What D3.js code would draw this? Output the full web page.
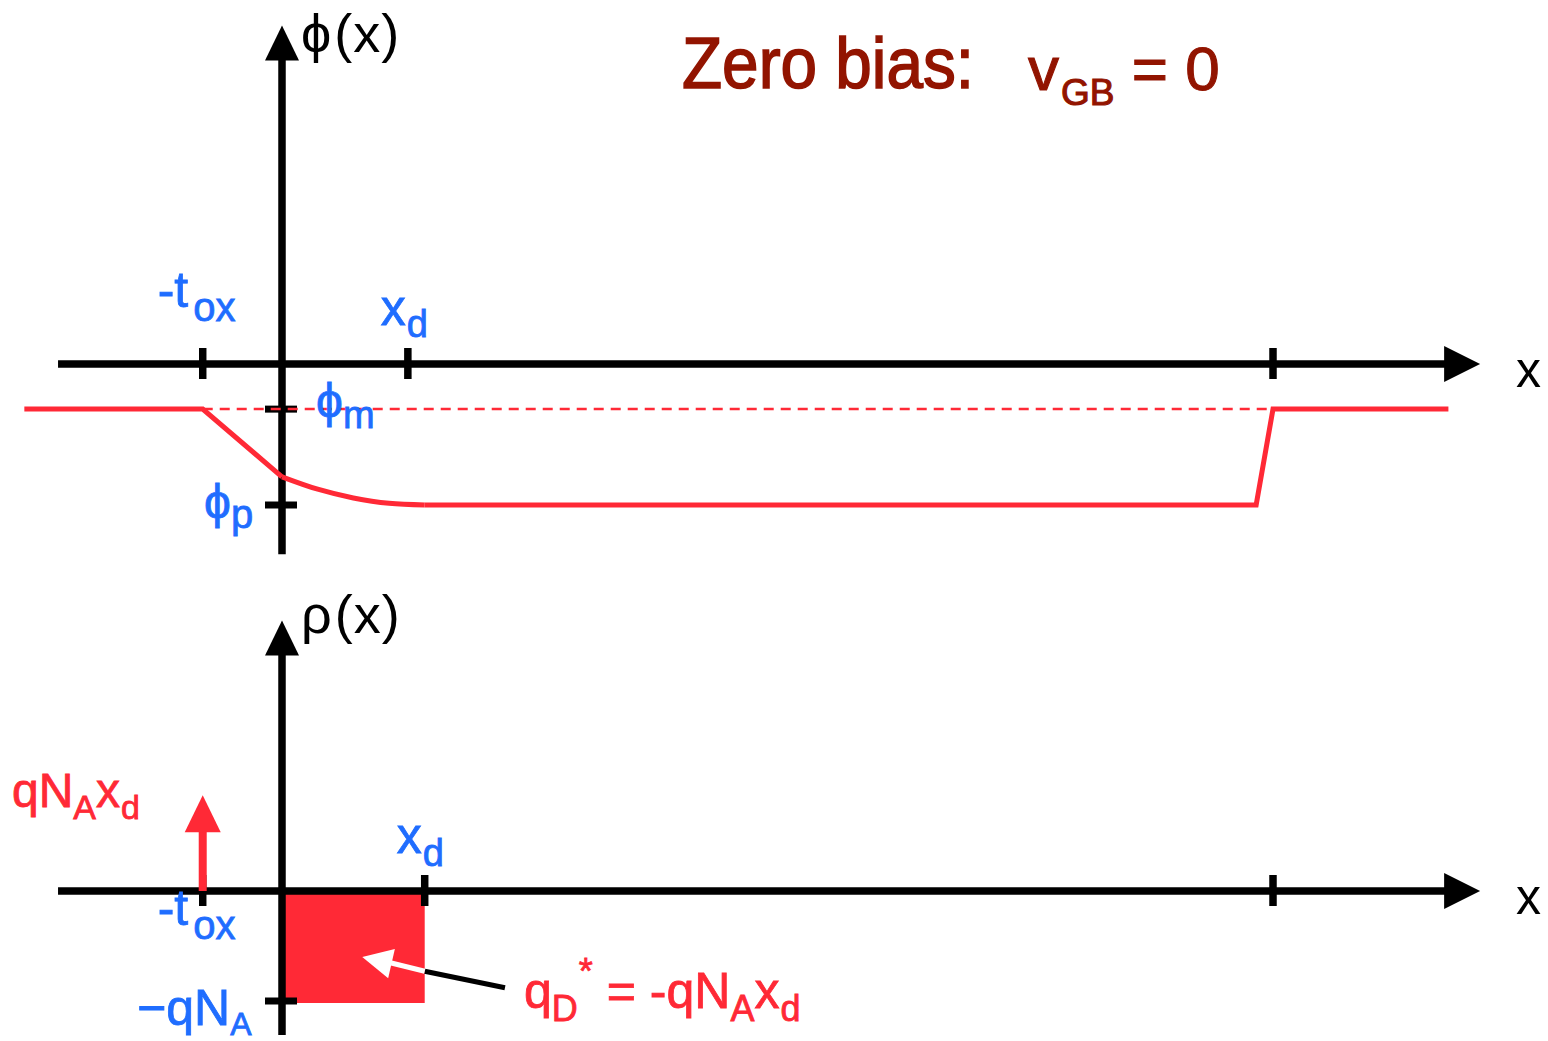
<!DOCTYPE html>
<html>
<head>
<meta charset="utf-8">
<script src="https://cdn.jsdelivr.net/npm/d3@7"></script>
<style>
  body { margin: 0; background: #fff; }
  svg { display: block; }
  text { font-family: "Liberation Sans", Arial, sans-serif; white-space: pre; }
</style>
</head>
<body>
<div id="chart"></div>
<script>
// --- data: x in units where the bulk contact sits at 100, potentials / charge normalised to phi_p, qN_A ---
const phiOxideX = [-26, -8, 0];
const phiOxideY = [-0.32, -0.32, -0.80];
const phiSiX    = [0, 3.6, 7.2, 10.8, 14.4];
const phiSiY    = [-0.80, -0.888, -0.95, -0.988, -1.0];
const phiBulkX  = [14.4, 98.3, 100, 117.7];
const phiBulkY  = [-1.0, -1.0, -0.32, -0.32];
const phiRefX   = [-8, 100];          // dashed phi_m level
const phiRefY   = [-0.32, -0.32];

const xTicksTop = [-8, 12.7, 100];
const xTicksBot = [-8, 14.4, 100];
const phiTicks  = [-0.32, -1.0];
const rhoTicks  = [-1.0];

const rhoBoxX   = [0, 14.4];
const rhoBoxY   = [0, -1.0];
const deltaX    = [-8, -8];            // gate sheet charge arrow
const deltaY    = [0, 0.87];

// --- layout ---
const W = 1548, H = 1041;
const colors = { axis: "#000", red: "#ff2936", blue: "#1f6dff", title: "#921400" };

const x = d3.scaleLinear().domain([0, 100]).range([282, 1273]);
const yPhi = d3.scaleLinear().domain([0, -1]).range([364, 505]);
const yRho = d3.scaleLinear().domain([0, -1]).range([891, 1001]);
const xAxisDom = [-22.6, 120.9];
const phiAxisDom = [-1.35, 2.4];
const rhoAxisDom = [-1.31, 2.46];

const svg = d3.select("#chart").append("svg")
  .attr("width", W).attr("height", H)
  .attr("viewBox", `0 0 ${W} ${H}`);

const AX = 7.5;

// arrowhead polygon: tip, direction towards tip (dx,dy), length, half width
function head(g, tx, ty, dx, dy, len, hw, fill) {
  const n = Math.hypot(dx, dy), ux = dx / n, uy = dy / n;
  const bx = tx - ux * len, by = ty - uy * len;
  g.append("path")
    .attr("d", `M${tx},${ty}L${bx - uy * hw},${by + ux * hw}L${bx + uy * hw},${by - ux * hw}Z`)
    .attr("fill", fill);
}

function axes(g, y, yDom, xTicks, yTicks) {
  const y0 = y(0);
  // horizontal axis
  g.append("line")
    .attr("x1", x(xAxisDom[0])).attr("x2", x(xAxisDom[1]) - 30)
    .attr("y1", y0).attr("y2", y0)
    .attr("stroke", colors.axis).attr("stroke-width", AX);
  head(g, x(xAxisDom[1]), y0, 1, 0, 36, 18, colors.axis);
  // vertical axis
  g.append("line")
    .attr("x1", x(0)).attr("x2", x(0))
    .attr("y1", y(yDom[0])).attr("y2", y(yDom[1]) + 30)
    .attr("stroke", colors.axis).attr("stroke-width", AX);
  head(g, x(0), y(yDom[1]), 0, -1, 35, 17, colors.axis);
  // ticks
  g.selectAll(null).data(xTicks).join("line")
    .attr("x1", d => x(d)).attr("x2", d => x(d))
    .attr("y1", y0 - 16).attr("y2", y0 + 15)
    .attr("stroke", colors.axis).attr("stroke-width", AX);
  g.selectAll(null).data(yTicks).join("line")
    .attr("x1", x(0) - 17).attr("x2", x(0) + 15)
    .attr("y1", d => y(d)).attr("y2", d => y(d))
    .attr("stroke", colors.axis).attr("stroke-width", 7);
}

// text with sub/superscripts (a thin stroke of the same colour gives the medium weight)
function rich(g, px, py, parts, o) {
  const t = g.append("text")
    .attr("x", px).attr("y", py)
    .attr("fill", o.color)
    .attr("stroke", o.color).attr("stroke-width", o.sw ?? 0.8)
    .style("font-size", o.size + "px");
  let shift = 0;
  parts.forEach(p => {
    const target = p.sub ? o.subDy : p.sup ? -o.supDy : 0;
    t.append("tspan")
      .attr("dy", target - shift)
      .attr("dx", p.dx || 0)
      .style("font-size", (p.sub || p.sup ? o.subSize : o.size) + "px")
      .text(p.t);
    shift = target;
  });
  return t;
}

// ===== top panel: potential =====
const gTop = svg.append("g");
axes(gTop, yPhi, phiAxisDom, xTicksTop, phiTicks);

const linePhi = d3.line().x(d => x(d[0])).y(d => yPhi(d[1]));
gTop.append("path")
  .attr("d", linePhi(d3.zip(phiRefX, phiRefY)))
  .attr("fill", "none").attr("stroke", colors.red)
  .attr("stroke-width", 2.5).attr("stroke-dasharray", "10,7");
gTop.append("path")
  .attr("d", linePhi(d3.zip(phiOxideX, phiOxideY)))
  .attr("fill", "none").attr("stroke", colors.red).attr("stroke-width", 5);
gTop.append("path")
  .attr("d", linePhi.curve(d3.curveMonotoneX)(d3.zip(phiSiX, phiSiY)))
  .attr("fill", "none").attr("stroke", colors.red).attr("stroke-width", 5);
linePhi.curve(d3.curveLinear);
gTop.append("path")
  .attr("d", linePhi(d3.zip(phiBulkX, phiBulkY)))
  .attr("fill", "none").attr("stroke", colors.red).attr("stroke-width", 5)
  .attr("stroke-linejoin", "miter");

const blue = { color: colors.blue, size: 50, subSize: 40, subDy: 14, supDy: 0 };
rich(gTop, x(-8) - 45, yPhi(0) - 57, [{ t: "-t", dx: 0 }, { t: "ox", sub: true, dx: 5 }], blue);
rich(gTop, x(12.7) - 27, yPhi(0) - 39, [{ t: "x" }, { t: "d", sub: true, dx: 1 }], { ...blue, subSize: 38, subDy: 12 });
rich(gTop, x(0) + 34, yPhi(-0.32) + 8, [{ t: "\u03d5" }, { t: "m", sub: true }], { ...blue, size: 48, subSize: 38, subDy: 11 });
rich(gTop, x(0) - 78, yPhi(-1) + 13, [{ t: "\u03d5" }, { t: "p", sub: true }], { ...blue, size: 48, subSize: 40, subDy: 10 });

const black = { color: "#000", size: 54, subSize: 54, subDy: 0, supDy: 0, sw: 0 };
rich(svg, x(0) + 19, 52, [{ t: "\u03d5" }, { t: "(", dx: 3 }, { t: "x", dx: 1 }, { t: ")", dx: 1 }], black);
svg.append("text").attr("x", 1516).attr("y", yPhi(0) + 23)
  .style("font-size", "50px").attr("fill", "#000").text("x");

// title
svg.append("text").attr("x", 682).attr("y", 88)
  .attr("fill", colors.title).attr("stroke", colors.title).attr("stroke-width", 1.6)
  .style("font-size", "72px")
  .attr("textLength", 292).attr("lengthAdjust", "spacingAndGlyphs")
  .text("Zero bias:");
rich(svg, 1028, 90, [{ t: "v" }, { t: "GB", sub: true, dx: 2 }, { t: " = 0" }],
  { color: colors.title, size: 62, subSize: 37, subDy: 15, supDy: 0, sw: 1.1 });

// ===== bottom panel: charge density =====
const gBot = svg.append("g");
gBot.append("rect")
  .attr("x", x(rhoBoxX[0])).attr("width", x(rhoBoxX[1]) - x(rhoBoxX[0]))
  .attr("y", yRho(rhoBoxY[0])).attr("height", yRho(rhoBoxY[1]) - yRho(rhoBoxY[0]) + 2)
  .attr("fill", colors.red);
axes(gBot, yRho, rhoAxisDom, xTicksBot, rhoTicks);

// gate charge arrow
gBot.append("line")
  .attr("x1", x(deltaX[0])).attr("x2", x(deltaX[1]))
  .attr("y1", yRho(deltaY[0])).attr("y2", yRho(deltaY[1]) + 30)
  .attr("stroke", colors.red).attr("stroke-width", 8);
head(gBot, x(deltaX[1]), yRho(deltaY[1]), 0, -1, 37, 18, colors.red);

// annotation arrow into the depletion charge
const annFrom = [22.5, -0.88], annMid = [14.4, -0.73], annTip = [8.1, -0.60];
gBot.append("line")
  .attr("x1", x(annFrom[0])).attr("y1", yRho(annFrom[1]))
  .attr("x2", x(annMid[0])).attr("y2", yRho(annMid[1]))
  .attr("stroke", "#000").attr("stroke-width", 5);
gBot.append("line")
  .attr("x1", x(annMid[0])).attr("y1", yRho(annMid[1]))
  .attr("x2", x(annTip[0]) + 25).attr("y2", yRho(annTip[1]) + 5)
  .attr("stroke", "#fff").attr("stroke-width", 5);
head(gBot, x(annTip[0]), yRho(annTip[1]),
  x(annTip[0]) - x(annMid[0]), yRho(annTip[1]) - yRho(annMid[1]), 30, 15, "#fff");

rich(gBot, x(-8) - 45, yRho(0) + 34, [{ t: "-t" }, { t: "ox", sub: true, dx: 5 }], blue);
rich(gBot, x(14.4) - 28, yRho(0) - 38, [{ t: "x" }, { t: "d", sub: true, dx: 1 }], { ...blue, subSize: 38, subDy: 13 });
rich(gBot, x(0) - 145, yRho(-1) + 24, [{ t: "\u2212qN" }, { t: "A", sub: true }], { ...blue, subSize: 32, subDy: 10 });
const red = { color: colors.red, size: 48, subSize: 34, subDy: 12, supDy: 0 };
rich(gBot, 12, yRho(deltaY[1]) + 12, [{ t: "qN" }, { t: "A", sub: true }, { t: "x" }, { t: "d", sub: true, dx: 1 }], red);
rich(gBot, 524, 1008, [{ t: "q" }, { t: "D", sub: true }, { t: "*", sup: true, dx: 1 }, { t: " = -qN" },
  { t: "A", sub: true }, { t: "x" }, { t: "d", sub: true, dx: 1 }],
  { color: colors.red, size: 50, subSize: 36, subDy: 13, supDy: 24 });

rich(svg, x(0) + 19, 633, [{ t: "\u03c1" }, { t: "(", dx: 3 }, { t: "x", dx: 1 }, { t: ")", dx: 1 }], black);
svg.append("text").attr("x", 1516).attr("y", yRho(0) + 23)
  .style("font-size", "50px").attr("fill", "#000").text("x");
</script>
</body>
</html>
